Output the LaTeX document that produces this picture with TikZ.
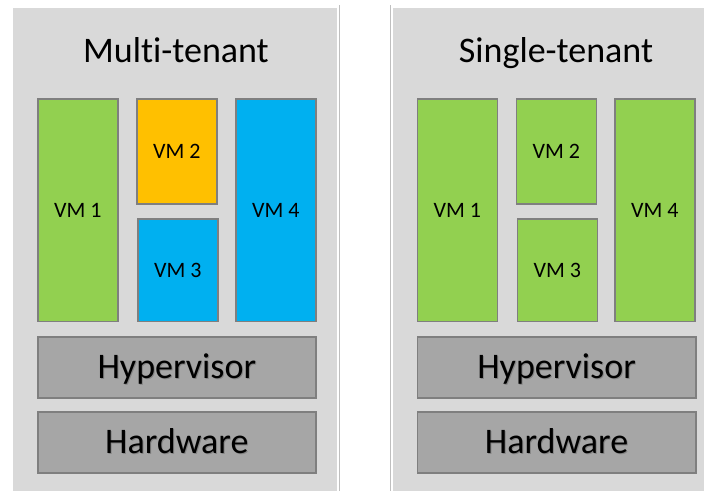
\documentclass[tikz,border=0pt]{standalone}
\usepackage{fontspec}
\setmainfont{Carlito}[RawFeature={-liga;-clig;-dlig}]
\definecolor{panelgray}{HTML}{D9D9D9}
\definecolor{sepgray}{HTML}{BFBFBF}
\definecolor{edgegray}{HTML}{7F7F7F}
\definecolor{layergray}{HTML}{A6A6A6}
\definecolor{vmgreen}{HTML}{92D050}
\definecolor{vmorange}{HTML}{FFC000}
\definecolor{vmblue}{HTML}{00B0F0}
\begin{document}
\begin{tikzpicture}[x=1pt,y=-1pt,
  box/.style={draw=edgegray, line width=1.6pt, inner sep=0pt, anchor=north west},
  vmtext/.style={font=\fontsize{22}{24}\selectfont, anchor=base, inner sep=0pt},
  layertext/.style={font=\fontsize{36}{40}\selectfont, anchor=base, inner sep=0pt},
  shadowtext/.style={layertext, text=black, opacity=0.2},
  titletext/.style={font=\fontsize{36}{40}\selectfont, anchor=base, inner sep=0pt}]
\useasboundingbox (0,0) rectangle (704,491);
\fill[white] (0,0) rectangle (704,491);
% panel backgrounds and separator rules
\fill[panelgray] (13,8) rectangle (336.5,491);
\fill[panelgray] (393.3,8) rectangle (704,491);
\draw[sepgray, line width=1pt] (339.5,5) -- (339.5,491);
\draw[sepgray, line width=1pt] (390.8,5) -- (390.8,491);

% ---- multi-tenant host ----
\node[titletext] (mtitle) at (176,62) {Multi-tenant};
\node[box, fill=vmgreen,  minimum width=80pt, minimum height=222.5pt] (mvm1) at (37,98) {};
\node[box, fill=vmorange, minimum width=80pt, minimum height=105pt]   (mvm2) at (136,98) {};
\node[box, fill=vmblue,   minimum width=80pt, minimum height=102.5pt] (mvm3) at (137,218) {};
\node[box, fill=vmblue,   minimum width=80pt, minimum height=222.5pt] (mvm4) at (235,98) {};
\node[box, fill=layergray, minimum width=278pt, minimum height=61pt] (mhyp) at (37,336) {};
\node[box, fill=layergray, minimum width=278pt, minimum height=61pt] (mhw) at (37,411) {};
\node[vmtext] (mvm1t) at ([yshift=-7pt]mvm1.center) {VM 1};
\node[vmtext] (mvm2t) at ([yshift=-7pt]mvm2.center) {VM 2};
\node[vmtext] (mvm3t) at ([yshift=-7pt]mvm3.center) {VM 3};
\node[vmtext] (mvm4t) at ([yshift=-7pt]mvm4.center) {VM 4};
\node[shadowtext] (mhyps) at ([xshift=1pt,yshift=-12.5pt]mhyp.center) {Hypervisor};
\node[layertext]  (mhypt) at ([yshift=-11.5pt]mhyp.center) {Hypervisor};
\node[shadowtext] (mhws)  at ([xshift=1pt,yshift=-12.5pt]mhw.center) {Hardware};
\node[layertext]  (mhwt)  at ([yshift=-11.5pt]mhw.center) {Hardware};

% ---- single-tenant host ----
\node[titletext] (stitle) at (556,62) {Single-tenant};
\node[box, fill=vmgreen, minimum width=80pt, minimum height=222.5pt] (svm1) at (416.5,98) {};
\node[box, fill=vmgreen, minimum width=80pt, minimum height=105pt]   (svm2) at (515.5,98) {};
\node[box, fill=vmgreen, minimum width=80pt, minimum height=102.5pt] (svm3) at (516.5,218) {};
\node[box, fill=vmgreen, minimum width=80pt, minimum height=222.5pt] (svm4) at (614,98) {};
\node[box, fill=layergray, minimum width=278.5pt, minimum height=61pt] (shyp) at (416.5,336) {};
\node[box, fill=layergray, minimum width=278.5pt, minimum height=61pt] (shw) at (416.5,411) {};
\node[vmtext] (svm1t) at ([yshift=-7pt]svm1.center) {VM 1};
\node[vmtext] (svm2t) at ([yshift=-7pt]svm2.center) {VM 2};
\node[vmtext] (svm3t) at ([yshift=-7pt]svm3.center) {VM 3};
\node[vmtext] (svm4t) at ([yshift=-7pt]svm4.center) {VM 4};
\node[shadowtext] (shyps) at ([xshift=1pt,yshift=-12.5pt]shyp.center) {Hypervisor};
\node[layertext]  (shypt) at ([yshift=-11.5pt]shyp.center) {Hypervisor};
\node[shadowtext] (shws)  at ([xshift=1pt,yshift=-12.5pt]shw.center) {Hardware};
\node[layertext]  (shwt)  at ([yshift=-11.5pt]shw.center) {Hardware};
\end{tikzpicture}
\end{document}
